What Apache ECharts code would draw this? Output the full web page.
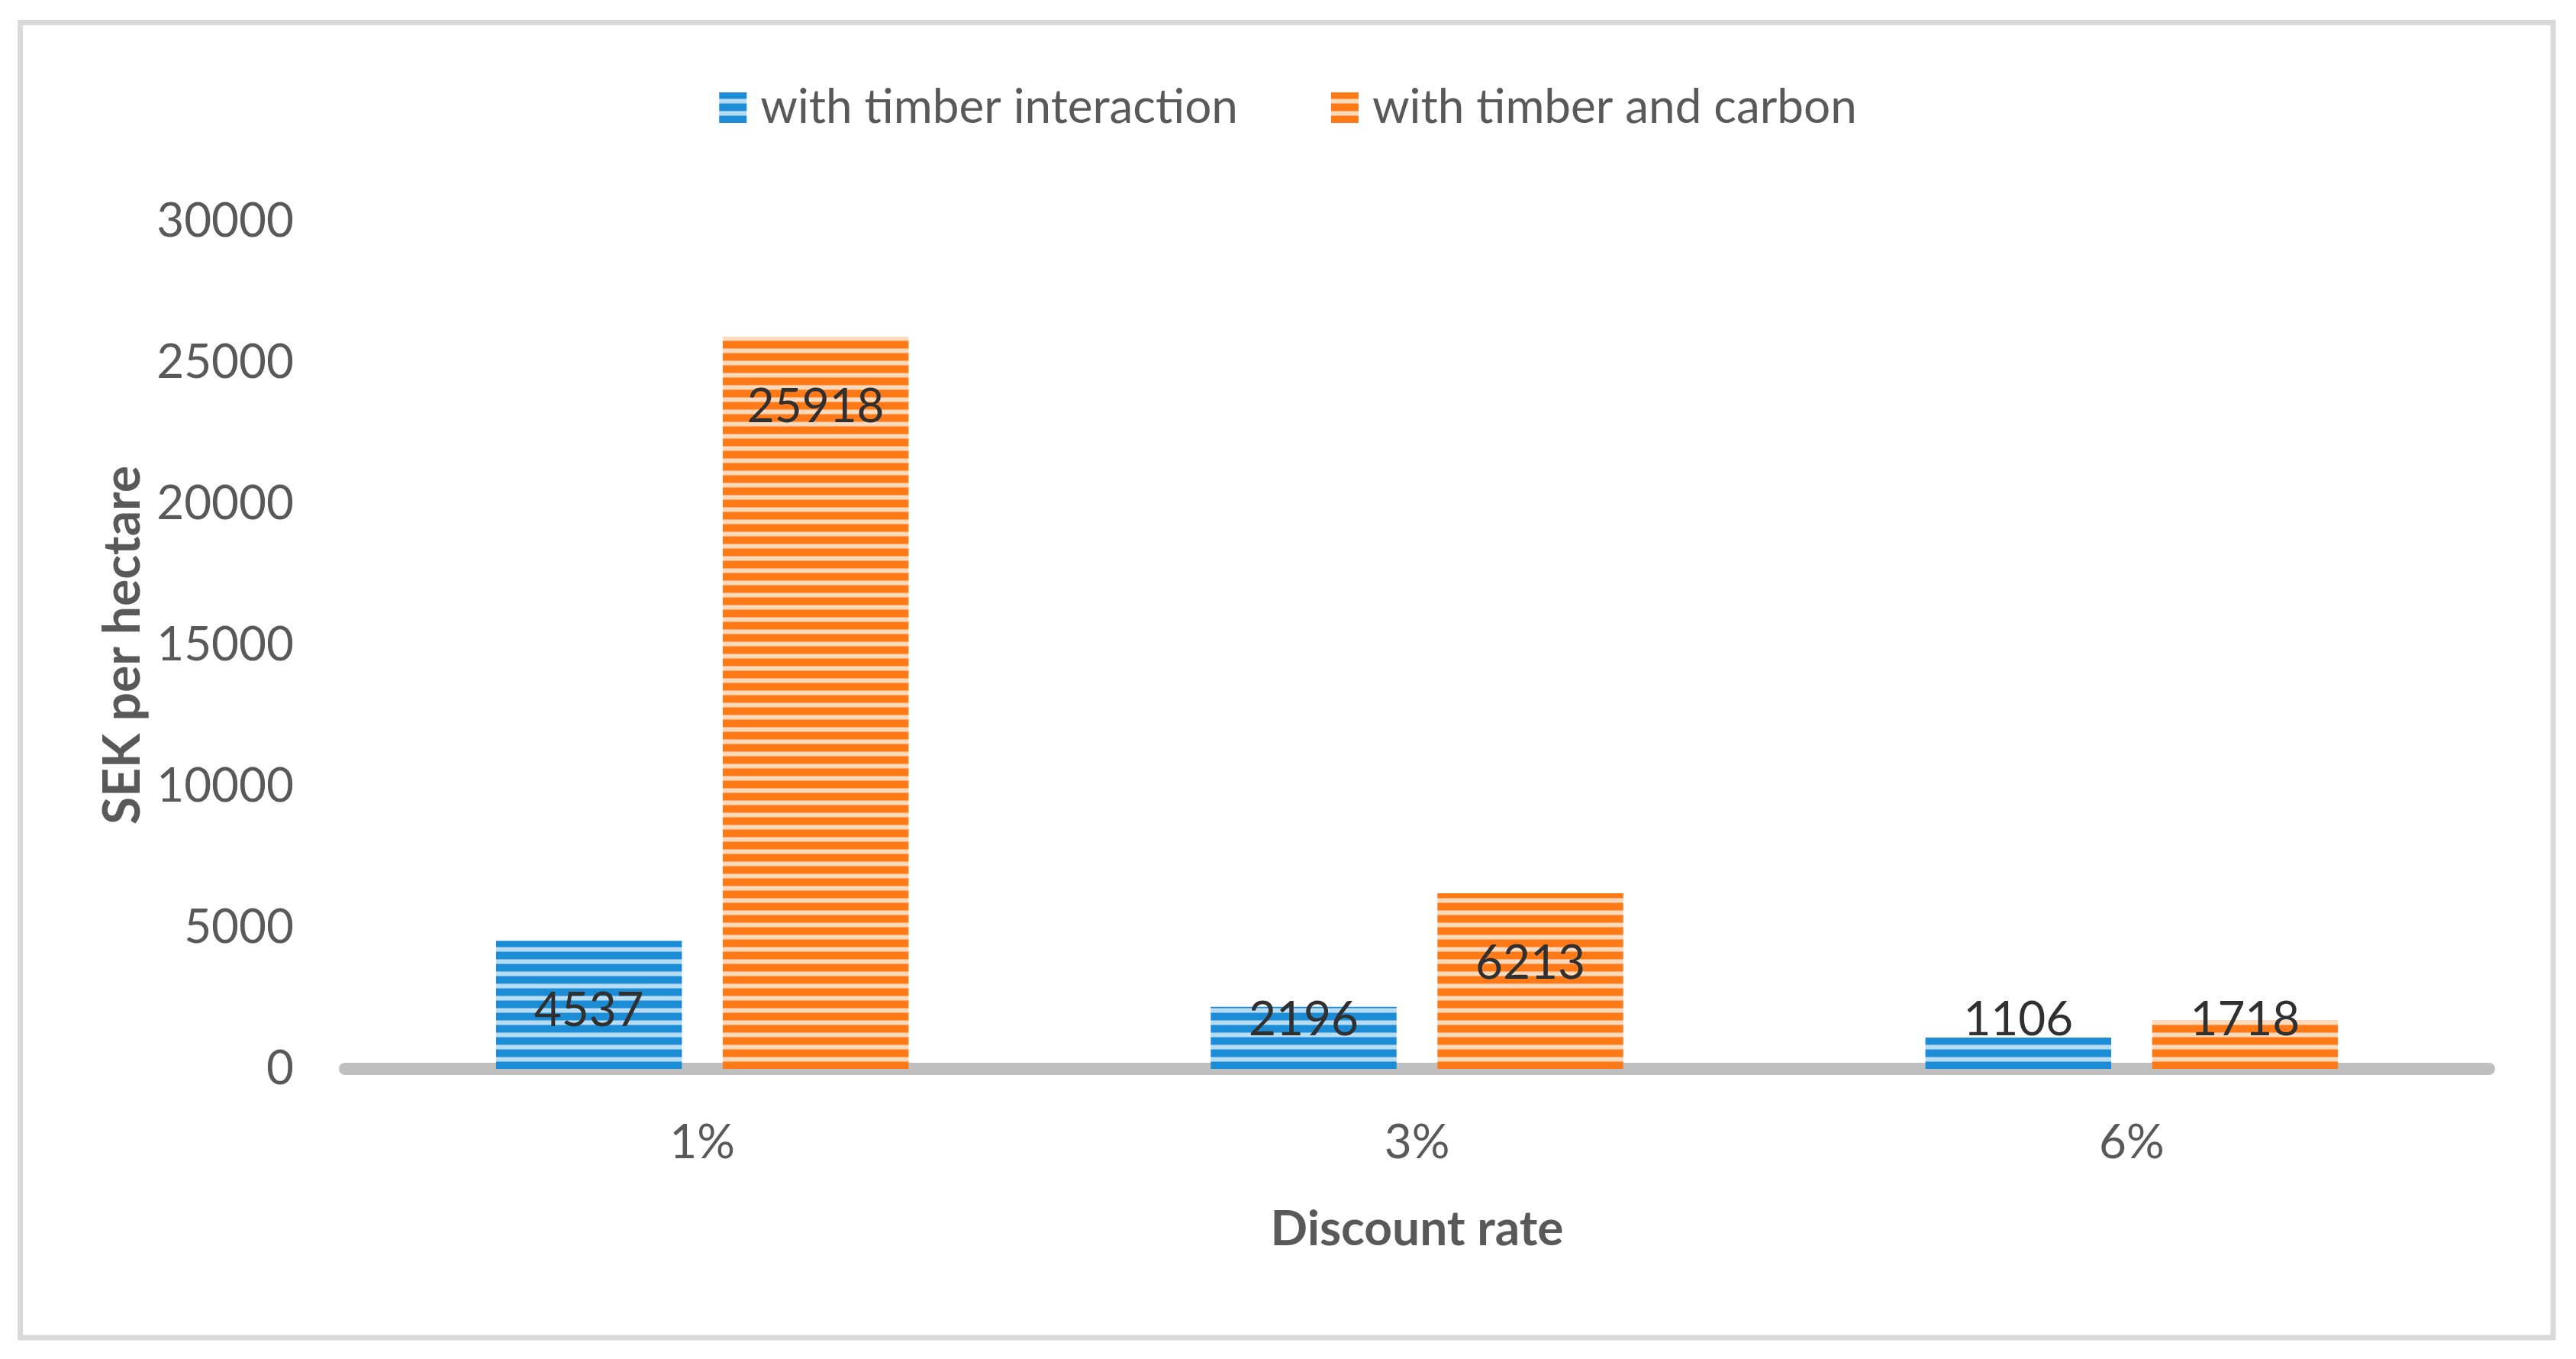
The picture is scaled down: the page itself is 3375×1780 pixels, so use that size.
<!DOCTYPE html>
<html>
<head>
<meta charset="utf-8">
<script src="https://cdn.jsdelivr.net/npm/echarts@6/dist/echarts.min.js"></script>
<style>
  html, body { margin: 0; padding: 0; background: #fff; }
  #chart { width: 3375px; height: 1780px; }
</style>
</head>
<body>
<div id="chart"></div>
<script>
// data
const categories = ['1%', '3%', '6%']
const seriesNames = ['with timber interaction', 'with timber and carbon']
const timberValues = [4537, 2196, 1106]
const carbonValues = [25918, 6213, 1718]
const yTicks = { min: 0, max: 30000, interval: 5000 }

// striped fill like the Excel pattern
function stripes(dark, light) {
  const c = document.createElement('canvas')
  c.width = 4
  c.height = 16
  const ctx = c.getContext('2d')
  ctx.fillStyle = dark
  ctx.fillRect(0, 0, 4, 16)
  ctx.fillStyle = light
  ctx.globalAlpha = 0.5
  ctx.fillRect(0, 8, 4, 1)
  ctx.fillRect(0, 14, 4, 1)
  ctx.globalAlpha = 1
  ctx.fillRect(0, 9, 4, 5)
  return { image: c, repeat: 'repeat' }
}

const bluePattern = stripes('#1a8dd6', '#b8dcf3')
const orangePattern = stripes('#ff7a17', '#ffd9bb')

const FONT = 'Lato'
const textGray = '#595959'

// tall bars get the label inside the end, short ones sit just above the base
function withLabels(values) {
  return values.map(v => ({
    value: v,
    label: v > 3000
      ? { position: 'insideTop', distance: 61 }
      : { position: 'insideBottom', distance: 33 }
  }))
}

const chart = echarts.init(document.getElementById('chart'))

const option = {
  backgroundColor: '#fff',
  animation: false,
  graphic: [{
    type: 'rect',
    shape: { x: 26.5, y: 29.5, width: 3318.5, height: 1722.5 },
    style: { fill: 'none', stroke: '#d9d9d9', lineWidth: 7 },
    silent: true
  }],
  legend: {
    top: 105,
    left: 'center',
    itemWidth: 36,
    itemHeight: 40,
    itemGap: 122,
    icon: 'rect',
    textStyle: {
      fontFamily: FONT,
      fontSize: 62,
      color: textGray,
      padding: [0, 0, 0, 13]
    },
    data: [
      { name: seriesNames[0], itemStyle: { color: bluePattern } },
      { name: seriesNames[1], itemStyle: { color: orangePattern } }
    ]
  },
  grid: {
    left: 452,
    right: 114,
    top: 290,
    bottom: 380
  },
  xAxis: {
    type: 'category',
    data: categories,
    name: 'Discount rate',
    nameLocation: 'middle',
    nameGap: 178,
    nameTextStyle: {
      fontFamily: FONT,
      fontSize: 64,
      fontWeight: 'bold',
      color: textGray,
      lineHeight: 64
    },
    axisLine: { lineStyle: { color: '#bfbfbf', width: 16 } },
    axisTick: { show: false },
    axisLabel: {
      fontFamily: FONT,
      fontSize: 62,
      lineHeight: 62,
      color: textGray,
      margin: 66
    }
  },
  yAxis: {
    type: 'value',
    min: yTicks.min,
    max: yTicks.max,
    interval: yTicks.interval,
    name: 'SEK per hectare',
    nameLocation: 'middle',
    nameGap: 252,
    nameTextStyle: {
      fontFamily: FONT,
      fontSize: 66,
      fontWeight: 'bold',
      color: textGray,
      lineHeight: 64
    },
    axisLine: { show: false },
    axisTick: { show: false },
    splitLine: { show: false },
    axisLabel: {
      fontFamily: FONT,
      fontSize: 62,
      color: textGray,
      margin: 67,
      formatter: v => String(v)
    }
  },
  series: [
    {
      name: seriesNames[0],
      type: 'bar',
      barWidth: '26%',
      barGap: '22%',
      itemStyle: { color: bluePattern },
      label: {
        show: true,
        fontFamily: FONT,
        fontSize: 62,
        lineHeight: 62,
        color: '#303030'
      },
      data: withLabels(timberValues)
    },
    {
      name: seriesNames[1],
      type: 'bar',
      barWidth: '26%',
      itemStyle: { color: orangePattern },
      label: {
        show: true,
        fontFamily: FONT,
        fontSize: 62,
        lineHeight: 62,
        color: '#303030'
      },
      data: withLabels(carbonValues)
    }
  ]
}

chart.setOption(option)
</script>
</body>
</html>
